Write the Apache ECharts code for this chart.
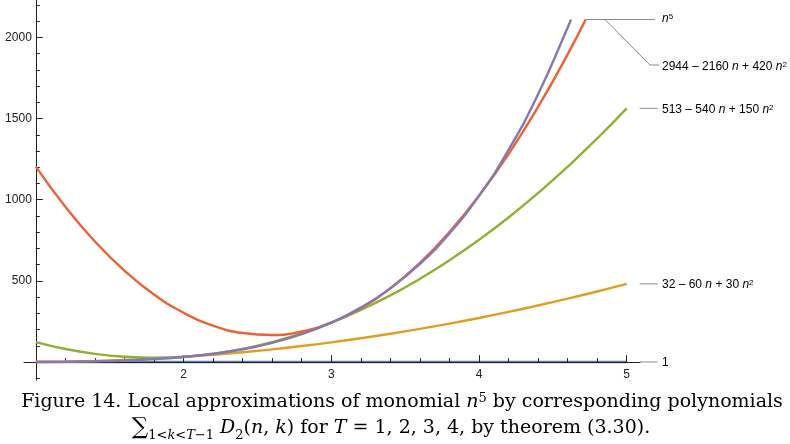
<!DOCTYPE html>
<html>
<head>
<meta charset="utf-8">
<script src="https://cdn.jsdelivr.net/npm/echarts@6/dist/echarts.min.js"></script>
<style>
  html, body { margin: 0; padding: 0; background: #fff; }
  #chart { width: 790px; height: 444px; }
</style>
</head>
<body>
<div id="chart"></div>
<script>
// n sample points (x axis)
var nGrid = [1, 1.2, 1.4, 1.6, 1.8, 2, 2.2, 2.4, 2.6, 2.8, 3, 3.2, 3.4, 3.6, 3.8, 4, 4.2, 4.4, 4.6, 4.8, 5];
// T = 1 : 1
var oneVals = [1, 1, 1, 1, 1, 1, 1, 1, 1, 1, 1, 1, 1, 1, 1, 1, 1, 1, 1, 1, 1];
// T = 2 : 32 - 60 n + 30 n^2
var t2Vals = [2, 3.2, 6.8, 12.8, 21.2, 32, 45.2, 60.8, 78.8, 99.2, 122, 147.2, 174.8, 204.8, 237.2, 272, 309.2, 348.8, 390.8, 435.2, 482];
// T = 3 : 513 - 540 n + 150 n^2
var t3Vals = [123, 81, 51, 33, 27, 33, 51, 81, 123, 177, 243, 321, 411, 513, 627, 753, 891, 1041, 1203, 1377, 1563];
// T = 4 : 2944 - 2160 n + 420 n^2 (clipped at top)
var t4Vals = [1204, 956.8, 743.2, 563.2, 416.8, 304, 224.8, 179.2, 167.2, 188.8, 244, 332.8, 455.2, 611.2, 800.8, 1024, 1280.8, 1571.2, 1895.2];
var t4End = [4.722, 2110];
// n^5 (clipped at top)
var n5Vals = [1, 2.49, 5.38, 10.49, 18.9, 32, 51.5, 79.6, 118.8, 172.1, 243, 335.5, 454.4, 604.7, 792.4, 1024, 1306.9, 1649.2, 2059.6];
var n5End = [4.623, 2110];

var xMajor = [1, 2, 3, 4, 5];
var xLabelVals = [2, 3, 4, 5];
var xMinor = [1.2, 1.4, 1.6, 1.8, 2.2, 2.4, 2.6, 2.8, 3.2, 3.4, 3.6, 3.8, 4.2, 4.4, 4.6, 4.8];
var yMajor = [500, 1000, 1500, 2000];
var yMinor = [-100, 100, 200, 300, 400, 600, 700, 800, 900, 1100, 1200, 1300, 1400, 1600, 1700, 1800, 1900, 2100, 2200];

var colors = ['#5E81B5', '#E19C24', '#8FB032', '#EB6235', '#8778B3'];

function pairs(vals, end) {
  var out = []
  for (var i = 0; i < vals.length; i++) {
    out.push([nGrid[i], vals[i]])
  }
  if (end) out.push(end)
  return out
}

var chart = echarts.init(document.getElementById('chart'))

var axisColor = '#222'
var lineW = 2.4

function lineSeries(name, data, color, z) {
  return {
    name: name,
    type: 'line',
    xAxisIndex: 0,
    yAxisIndex: 0,
    data: data,
    smooth: true,
    showSymbol: false,
    symbol: 'none',
    lineStyle: { color: color, width: lineW },
    itemStyle: { color: color },
    clip: false,
    silent: true,
    z: z
  }
}

var option = {
  animation: false,
  grid: { left: 24, top: 0, width: 616, height: 380, containLabel: false, outerBoundsMode: 'none' },
  xAxis: [
    {
      type: 'value', min: 0.92, max: 5.09, position: 'bottom', z: 2.5,
      axisLine: { show: true, onZero: true, lineStyle: { color: axisColor, width: 1 } },
      axisTick: { show: true, inside: true, length: 7, customValues: xMajor, lineStyle: { color: axisColor } },
      axisLabel: { show: true, customValues: xLabelVals, margin: -11, color: '#222', fontSize: 12, fontFamily: 'Liberation Sans' },
      splitLine: { show: false }
    },
    {
      type: 'value', min: 0.92, max: 5.09, position: 'bottom', z: 2.5,
      axisLine: { show: false, onZero: true },
      axisTick: { show: true, inside: true, length: 4, customValues: xMinor, lineStyle: { color: axisColor } },
      axisLabel: { show: false },
      splitLine: { show: false }
    }
  ],
  yAxis: [
    {
      type: 'value', min: -110, max: 2230, position: 'left', offset: -11.8, z: 2.5,
      axisLine: { show: true, onZero: false, lineStyle: { color: axisColor, width: 1 } },
      axisTick: { show: true, inside: true, length: 7, customValues: yMajor, lineStyle: { color: axisColor } },
      axisLabel: {
        show: true, customValues: yMajor, margin: 4, color: '#222', fontSize: 12, fontFamily: 'Liberation Sans',
        formatter: function(v) { return String(v) }
      },
      splitLine: { show: false }
    },
    {
      type: 'value', min: -110, max: 2230, position: 'left', offset: -11.8, z: 2.5,
      axisLine: { show: false, onZero: false },
      axisTick: { show: true, inside: true, length: 4, customValues: yMinor, lineStyle: { color: axisColor } },
      axisLabel: { show: false },
      splitLine: { show: false }
    }
  ],
  series: [
    lineSeries('1', pairs(oneVals), colors[0], 2),
    lineSeries('32-60n+30n^2', pairs(t2Vals), colors[1], 3),
    lineSeries('513-540n+150n^2', pairs(t3Vals), colors[2], 3),
    lineSeries('2944-2160n+420n^2', pairs(t4Vals, t4End), colors[3], 3),
    lineSeries('n^5', pairs(n5Vals, n5End), colors[4], 3)
  ]
}
chart.setOption(option)

// curve labels with leader lines
var labelColor = '#555'
var leadColor = '#8a8a8a'
var richLbl = {
  a: { fontFamily: 'Liberation Sans', fontSize: 12, color: labelColor },
  i: { fontFamily: 'Liberation Sans', fontSize: 12, fontStyle: 'italic', color: labelColor },
  s: { fontFamily: 'Liberation Sans', fontSize: 8, color: labelColor, verticalAlign: 'top', lineHeight: 12 }
}
function px(p) {
  return chart.convertToPixel({ xAxisIndex: 0, yAxisIndex: 0 }, p)
}
var topEnd = px(t4End)
var textX = 662
var gfx = []
function addLine(points) {
  gfx.push({ type: 'polyline', shape: { points: points }, style: { stroke: leadColor, lineWidth: 1, fill: null }, silent: true, z: 10 })
}
function addText(x, y, text) {
  gfx.push({ type: 'text', x: x, y: y, style: { text: text, rich: richLbl, verticalAlign: 'middle', align: 'left' }, silent: true, z: 10 })
}
// n^5
addLine([[topEnd[0], topEnd[1]], [655, topEnd[1]]])
addText(textX, topEnd[1] - 1, '{i|n}{s|5}')
// T = 4
addLine([[topEnd[0], topEnd[1]], [605, topEnd[1]], [650, 65], [659, 65]])
addText(textX, 67, '{a|2944 – 2160 }{i|n}{a| + 420 }{i|n}{s|2}')
// T = 3, T = 2, T = 1
var ends = [[5, t3Vals[t3Vals.length - 1], '{a|513 – 540 }{i|n}{a| + 150 }{i|n}{s|2}'],
  [5, t2Vals[t2Vals.length - 1], '{a|32 – 60 }{i|n}{a| + 30 }{i|n}{s|2}'],
  [5, oneVals[oneVals.length - 1], '{a|1}']]
for (var k = 0; k < ends.length; k++) {
  var p = px([ends[k][0], ends[k][1]])
  addLine([[p[0] + 13, p[1]], [p[0] + 31, p[1]]])
  addText(textX, p[1] + 1, ends[k][2])
}

// caption
var capFont = 'DejaVu Serif'
var richCap = {
  r: { fontFamily: capFont, fontSize: 19, color: '#111' },
  it: { fontFamily: capFont, fontSize: 19, fontStyle: 'italic', color: '#111' },
  sup: { fontFamily: capFont, fontSize: 13, color: '#111', verticalAlign: 'top', lineHeight: 20 },
  sub: { fontFamily: capFont, fontSize: 13, color: '#111', verticalAlign: 'bottom', lineHeight: 28 },
  subi: { fontFamily: capFont, fontSize: 13, fontStyle: 'italic', color: '#111', verticalAlign: 'bottom', lineHeight: 28 },
  big: { fontFamily: capFont, fontSize: 23, color: '#111' }
}
gfx.push({ type: 'text', x: 402, y: 402, style: {
  text: '{r|Figure 14. Local approximations of monomial }{it|n}{sup|5}{r| by corresponding polynomials}',
  rich: richCap, align: 'center', verticalAlign: 'middle' }, silent: true })
gfx.push({ type: 'text', x: 391, y: 428, style: {
  text: '{big|∑}{sub|1<}{subi|k}{sub|<}{subi|T}{sub|−1}{r| }{it|D}{sub|2}{r|(}{it|n}{r|, }{it|k}{r|) for }{it|T}{r| = 1, 2, 3, 4, by theorem (3.30).}',
  rich: richCap, align: 'center', verticalAlign: 'middle' }, silent: true })

chart.setOption({ graphic: gfx })

window.addEventListener('resize', function() {
  chart.resize()
})
</script>
</body>
</html>
